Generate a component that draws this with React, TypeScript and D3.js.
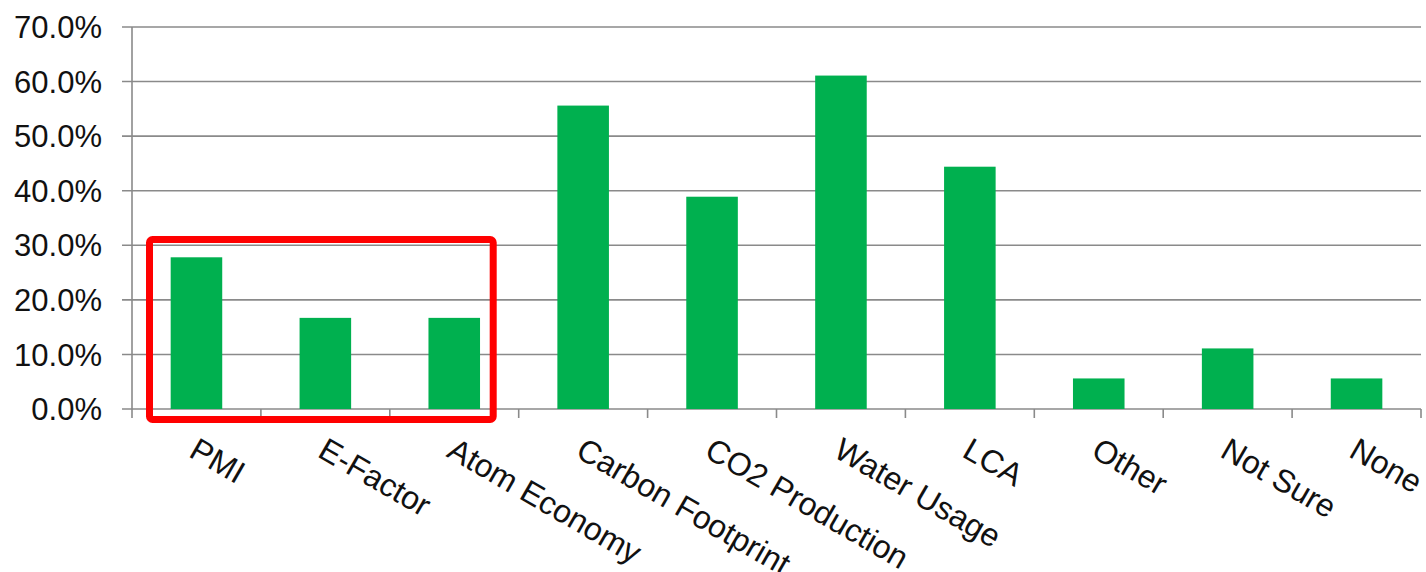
import React from "react";
import * as d3 from "d3";

const categories = ["PMI", "E-Factor", "Atom Economy", "Carbon Footprint", "CO2 Production", "Water Usage", "LCA", "Other", "Not Sure", "None"];
const values = [27.8, 16.7, 16.7, 55.6, 38.9, 61.1, 44.4, 5.6, 11.1, 5.6];
const yTicks = [0, 10, 20, 30, 40, 50, 60, 70];
const highlighted = ["PMI", "E-Factor", "Atom Economy"];

const W = 1426;
const H = 572;
const left = 132;
const right = 1421;
const top = 27;
const bottom = 409;
const font = "'Liberation Sans', Arial, sans-serif";

export default function App() {
  const x = d3.scaleBand<string>().domain(categories).range([left, right]).paddingInner(0.6).paddingOuter(0.3);
  const xb = d3.scaleBand<string>().domain(categories).range([left, right]);
  const y = d3.scaleLinear().domain([0, 70]).range([bottom, top]);

  const hx0 = xb(highlighted[0])!;
  const hx1 = xb(highlighted[highlighted.length - 1])! + xb.bandwidth();

  return (
    <svg width={W} height={H} style={{ position: "absolute", left: 0, top: 0, background: "#fff" }} fontFamily={font}>
      {yTicks.map((t) => (
        <g key={t}>
          <line x1={left - 10} x2={right} y1={y(t)} y2={y(t)} stroke="#8a8a8a" strokeWidth={1.6} />
          <text x={102} y={y(t)} dy="0.36em" textAnchor="end" fontSize={31} fill="#111">
            {t.toFixed(1)}%
          </text>
        </g>
      ))}
      <line x1={left} x2={left} y1={top} y2={bottom + 9} stroke="#8a8a8a" strokeWidth={1.6} />
      {categories.map((c) => (
        <line key={"t" + c} x1={xb(c)! + xb.bandwidth()} x2={xb(c)! + xb.bandwidth()} y1={bottom} y2={bottom + 9} stroke="#8a8a8a" strokeWidth={1.6} />
      ))}
      {categories.map((c, i) => (
        <rect key={"b" + c} x={x(c)} y={y(values[i])} width={x.bandwidth()} height={y(0) - y(values[i])} fill="#00b04f" />
      ))}
      {categories.map((c) => {
        const cx = xb(c)! + xb.bandwidth() / 2;
        const x0 = cx - 9;
        const y0 = 456;
        return (
          <text key={"l" + c} x={x0} y={y0} transform={`rotate(30 ${x0} ${y0})`} fontSize={32} fill="#111">
            {c}
          </text>
        );
      })}
      <rect x={hx0 + 17.5} y={239.5} width={hx1 - hx0 - 43} height={180} rx={3} fill="none" stroke="#ff0000" strokeWidth={7} />
    </svg>
  );
}
